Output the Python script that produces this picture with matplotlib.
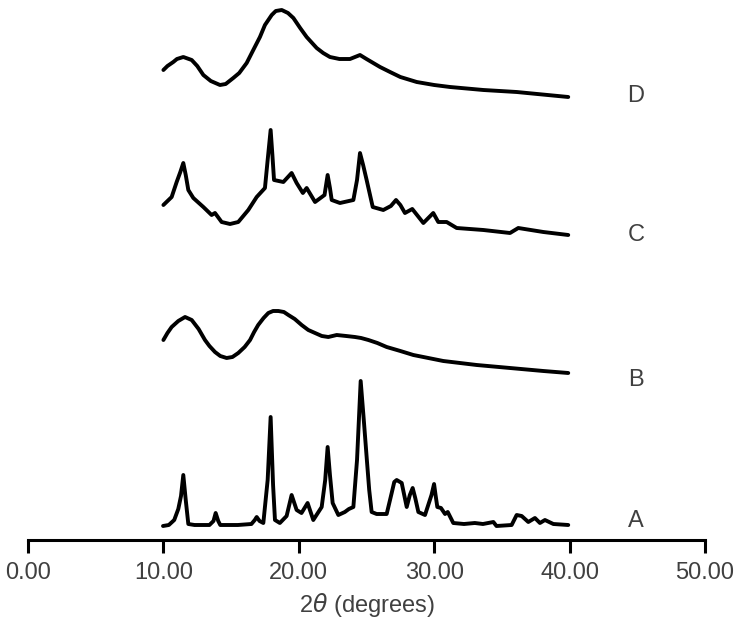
import matplotlib
matplotlib.use('Agg')
import matplotlib.pyplot as plt

plt.rcParams['font.family'] = ['Liberation Sans', 'DejaVu Sans']

# Patterns (2theta, stacked intensity in plot units)
x_A = [9.97, 10.4, 10.8, 11.1, 11.3, 11.47, 11.65, 11.84, 12.3, 13.4, 13.7, 13.86, 14.05, 14.2,
       15.5, 16.5, 16.75, 16.89, 17.1, 17.38, 17.7, 17.92, 18.1, 18.24, 18.6, 19.1, 19.47,
       19.84, 20.2, 20.65, 21.07, 21.69, 21.95, 22.13, 22.3, 22.5, 22.92, 23.4, 23.7, 24.03,
       24.3, 24.57, 24.8, 25.01, 25.2, 25.38, 25.75, 26.49, 26.86, 27.05, 27.23, 27.6, 27.97,
       28.2, 28.41, 28.6, 28.83, 29.32, 29.8, 29.99, 30.1, 30.23, 30.5, 30.8, 31.0, 31.41, 32.2,
       33.0, 33.6, 34.37, 34.6, 35.72, 36.09, 36.46, 36.95, 37.44, 37.81, 38.18, 38.8, 39.9]
y_A = [14, 15, 20, 31, 44, 65, 40, 16, 15, 15, 19, 27, 19, 15,
       15, 16, 20, 23, 19, 17, 60, 123, 55, 20, 17, 24, 45,
       30, 27, 37, 20, 33, 60, 93, 65, 37, 25, 28, 31, 33,
       80, 159, 120, 83, 50, 28, 26, 26, 47, 58, 60, 57, 33,
       45, 52, 42, 28, 25, 45, 56, 45, 33, 32, 26, 28, 17, 16,
       17, 16, 18, 14, 15, 25, 24, 18, 22, 17, 20, 16, 15]

x_B = [10.0, 10.3, 10.61, 11.1, 11.6, 12.09, 12.6, 13.07, 13.4, 13.81, 14.2, 14.67, 15.1, 15.53,
       16.0, 16.4, 16.7, 17.0, 17.4, 17.75, 18.1, 18.49, 18.9, 19.23, 19.7, 20.21, 20.7, 21.2,
       21.7, 22.18, 22.8, 23.5, 24.15, 24.6, 25.14, 25.8, 26.49, 27.5, 28.46, 30.67, 33.14,
       35.6, 38.06, 39.9]
y_B = [200, 207, 213, 219, 223, 220, 211, 200, 194, 188, 184, 182, 183, 187,
       193, 200, 208, 215, 222, 227, 229, 229, 228, 225, 221, 215, 210, 207,
       204, 203, 205, 204, 203, 202, 200, 197, 193, 189, 185, 179, 175,
       172, 169, 167]

x_C = [10.0, 10.61, 10.98, 11.25, 11.47, 11.65, 11.84, 12.21, 12.95, 13.56, 13.81, 14.3, 14.92,
       15.53, 16.27, 16.89, 17.5, 17.7, 17.92, 18.05, 18.17, 18.86, 19.47, 19.84, 20.3, 20.58,
       21.2, 21.9, 22.13, 22.3, 22.43, 23.04, 24.03, 24.3, 24.52, 24.75, 25.01, 25.46, 26.24,
       26.8, 27.18, 27.5, 27.84, 28.38, 29.2, 29.93, 30.3, 30.92, 31.66, 33.63, 35.6, 36.21,
       38.06, 39.9]
y_C = [335, 343, 358, 368, 377, 365, 350, 342, 333, 325, 327, 318, 316,
       318, 330, 343, 352, 380, 410, 385, 360, 358, 367, 357, 347, 352,
       338, 345, 365, 352, 340, 337, 340, 360, 387, 375, 360, 333, 330,
       334, 340, 335, 327, 331, 317, 327, 318, 318, 312, 310, 307, 312,
       308, 305]

x_D = [10.0, 10.3, 10.73, 11.0, 11.47, 12.09, 12.5, 12.95, 13.5, 14.18, 14.6, 15.16, 15.6, 16.15,
       16.6, 17.13, 17.5, 18.0, 18.3, 18.74, 19.2, 19.6, 20.1, 20.58, 21.32, 21.8, 22.3, 23.0,
       23.78, 24.52, 25.0, 25.5, 26.0, 26.74, 27.5, 28.71, 30.0, 31.17, 33.63, 36.09, 39.9]
y_D = [470, 474, 478, 481, 483, 480, 474, 465, 459, 455, 456, 462, 467, 477,
       489, 503, 515, 525, 529, 530, 527, 522, 512, 503, 492, 487, 483, 481,
       481, 485, 481, 477, 473, 468, 463, 458, 455, 453, 450, 448, 443]

labels = ['A', 'B', 'C', 'D']
label_y = [19, 160, 305, 444]
x_ticks = [0, 10, 20, 30, 40, 50]

fig = plt.figure(figsize=(7.42, 6.26), dpi=100)
ax = fig.add_axes([28 / 742, 86 / 626, 677 / 742, 540 / 626])

for xs, ys in [(x_A, y_A), (x_B, y_B), (x_C, y_C), (x_D, y_D)]:
    ax.plot(xs, ys, color='black', linewidth=2.8, solid_joinstyle='round',
            solid_capstyle='round', clip_on=False)

for lab, ly in zip(labels, label_y):
    ax.text(44.9, ly, lab, fontsize=17, color='#404040', ha='center', va='center')

ax.set_xlim(0, 50)
ax.set_ylim(0, 540)
ax.set_xticks(x_ticks)
ax.set_xticklabels(['%.2f' % t for t in x_ticks], fontsize=17, color='#404040')
ax.set_yticks([])
ax.set_xlabel(r'2$\theta$ (degrees)', fontsize=17, color='#404040', labelpad=5)

for s in ['top', 'left', 'right']:
    ax.spines[s].set_visible(False)
ax.spines['bottom'].set_linewidth(2.2)
ax.tick_params(axis='x', direction='out', length=9, width=2.2, pad=7)

fig.savefig('out.png', dpi=100)
